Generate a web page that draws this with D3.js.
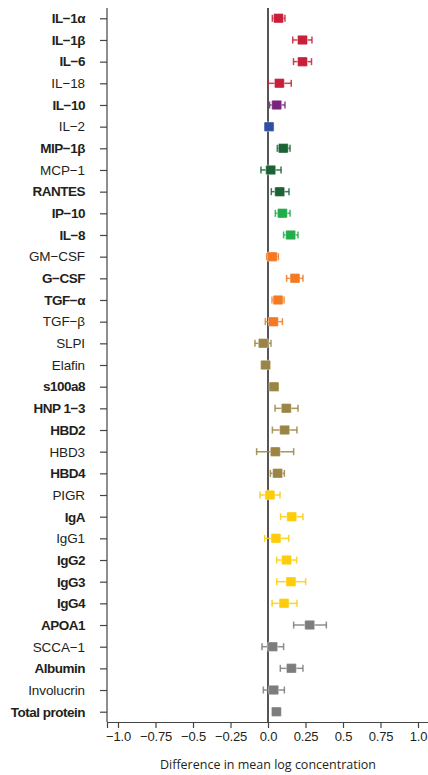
<!DOCTYPE html>
<html>
<head>
<meta charset="utf-8">
<script src="https://cdn.jsdelivr.net/npm/d3@7"></script>
<style>
  body { margin: 0; background: #fff; }
  svg { display: block; font-family: "Open Sans", sans-serif; }
  .ylab text { fill: #231f20; }
  .xaxis text { fill: #231f20; }
</style>
</head>
<body>
<div id="chart"></div>
<script>
// markers, top to bottom
const names = ["IL\u22121\u03b1", "IL\u22121\u03b2", "IL\u22126", "IL\u221218", "IL\u221210", "IL\u22122",
  "MIP\u22121\u03b2", "MCP\u22121", "RANTES", "IP\u221210", "IL\u22128", "GM\u2212CSF", "G\u2212CSF",
  "TGF\u2212\u03b1", "TGF\u2212\u03b2", "SLPI", "Elafin", "s100a8", "HNP 1\u22123", "HBD2", "HBD3", "HBD4",
  "PIGR", "IgA", "IgG1", "IgG2", "IgG3", "IgG4", "APOA1", "SCCA\u22121", "Albumin", "Involucrin",
  "Total protein"];

// 1 = bold label
const bold = [1,1,1,0,1,0, 1,0,1,1,1,0,1, 1,0,0,0,1,1,1,0,1, 0,1,0,1,1,1,1,0,1,0, 1];

// colour group per marker
const groups = ["il1","il1","il1","il1","il10","il2",
  "chemo","chemo","chemo","ip","ip","csf","csf",
  "csf","csf","amp","amp","amp","amp","amp","amp","amp",
  "ig","ig","ig","ig","ig","ig","other","other","other","other",
  "other"];

const groupColors = {
  il1: "#c8203a", il10: "#7a2480", il2: "#2f4fa3", chemo: "#1b6334",
  ip: "#20ad4a", csf: "#f37a20", amp: "#9a8545", ig: "#fdcc0a", other: "#7d7d7d"
};

// difference in mean log concentration and CI
const means = [0.07, 0.23, 0.23, 0.076, 0.058, 0.007,
  0.102, 0.018, 0.078, 0.096, 0.151, 0.029, 0.18,
  0.067, 0.036, -0.031, -0.016, 0.04, 0.122, 0.111, 0.049, 0.064,
  0.013, 0.158, 0.053, 0.124, 0.153, 0.107, 0.278, 0.031, 0.156, 0.038,
  0.056];
const lows = [0.029, 0.165, 0.17, 0.0, 0.01, -0.015,
  0.062, -0.047, 0.022, 0.049, 0.104, -0.009, 0.124,
  0.027, -0.018, -0.087, -0.035, 0.02, 0.047, 0.029, -0.076, 0.016,
  -0.053, 0.084, -0.022, 0.058, 0.058, 0.027, 0.171, -0.04, 0.082, -0.031,
  0.04];
const highs = [0.113, 0.293, 0.29, 0.155, 0.113, 0.03,
  0.147, 0.087, 0.14, 0.147, 0.2, 0.069, 0.233,
  0.107, 0.096, 0.02, 0.005, 0.06, 0.2, 0.193, 0.171, 0.109,
  0.08, 0.233, 0.138, 0.191, 0.251, 0.193, 0.389, 0.104, 0.233, 0.109,
  0.07];

const xTicks = [-1, -0.75, -0.5, -0.25, 0, 0.25, 0.5, 0.75, 1];
const xTickLabels = ["\u22121.0", "\u22120.75", "\u22120.5", "\u22120.25", "0.0", "0.25", "0.5", "0.75", "1.0"];

const width = 428, height = 775;
const plotLeft = 107, plotBottom = 722, plotTop = 8;

const data = names.map((n, i) => ({
  name: n, bold: bold[i], color: groupColors[groups[i]],
  mean: means[i], lo: lows[i], hi: highs[i]
}));

const svg = d3.select("#chart").append("svg")
  .attr("width", width)
  .attr("height", height);

const x = d3.scaleLinear()
  .domain([-1.0733, 1.0733])
  .range([plotLeft, 429]);

const y = d3.scalePoint()
  .domain(names)
  .range([18.3, 711.7]);

// x axis
const xAxis = svg.append("g")
  .attr("class", "xaxis")
  .attr("transform", `translate(0,${plotBottom})`)
  .call(d3.axisBottom(x)
    .tickValues(xTicks)
    .tickFormat((d, i) => xTickLabels[i])
    .tickSizeOuter(0)
    .tickSize(6)
    .tickPadding(4));
xAxis.selectAll("path, line").attr("stroke", "#444").attr("stroke-width", 1.2);
xAxis.selectAll("text").attr("font-size", 13).attr("letter-spacing", -0.2);

// y axis
const yAxis = svg.append("g")
  .attr("class", "ylab")
  .attr("transform", `translate(${plotLeft},0)`)
  .call(d3.axisLeft(y).tickSize(7).tickPadding(15).tickSizeOuter(0));
yAxis.select(".domain").attr("d", `M0,${plotTop}V${plotBottom}`);
yAxis.selectAll("path, line").attr("stroke", "#444").attr("stroke-width", 1.2);
yAxis.selectAll("text")
  .attr("font-size", 13.5)
  .attr("font-weight", (d, i) => data[i].bold ? 700 : 400)
  .attr("letter-spacing", (d, i) => data[i].bold ? -0.5 : -0.1);

// zero line
svg.append("line")
  .attr("x1", x(0)).attr("x2", x(0))
  .attr("y1", plotTop).attr("y2", plotBottom)
  .attr("stroke", "#2b2b2b")
  .attr("stroke-width", 1.6);

// error bars
const rows = svg.append("g").selectAll("g")
  .data(data)
  .join("g")
  .attr("transform", d => `translate(0,${y(d.name)})`);

rows.append("line")
  .attr("x1", d => x(d.lo)).attr("x2", d => x(d.hi))
  .attr("stroke", d => d.color)
  .attr("stroke-width", 1.5)
  .attr("opacity", 0.85);

rows.selectAll(".cap")
  .data(d => [d.lo, d.hi].map(v => ({v, color: d.color})))
  .join("line")
  .attr("class", "cap")
  .attr("x1", d => x(d.v)).attr("x2", d => x(d.v))
  .attr("y1", -3.5).attr("y2", 3.5)
  .attr("stroke", d => d.color)
  .attr("stroke-width", 1.5)
  .attr("opacity", 0.85);

rows.append("rect")
  .attr("x", d => x(d.mean) - 5)
  .attr("y", -4.75)
  .attr("width", 10)
  .attr("height", 9.5)
  .attr("rx", 1.2)
  .attr("fill", d => d.color)
  .attr("stroke", "#fff")
  .attr("stroke-opacity", 0.5)
  .attr("stroke-width", 0.8);

// x axis title
svg.append("text")
  .attr("x", x(0))
  .attr("y", 769)
  .attr("text-anchor", "middle")
  .attr("font-size", 12.5)
  .attr("fill", "#231f20")
  .text("Difference in mean log concentration");
</script>
</body>
</html>
